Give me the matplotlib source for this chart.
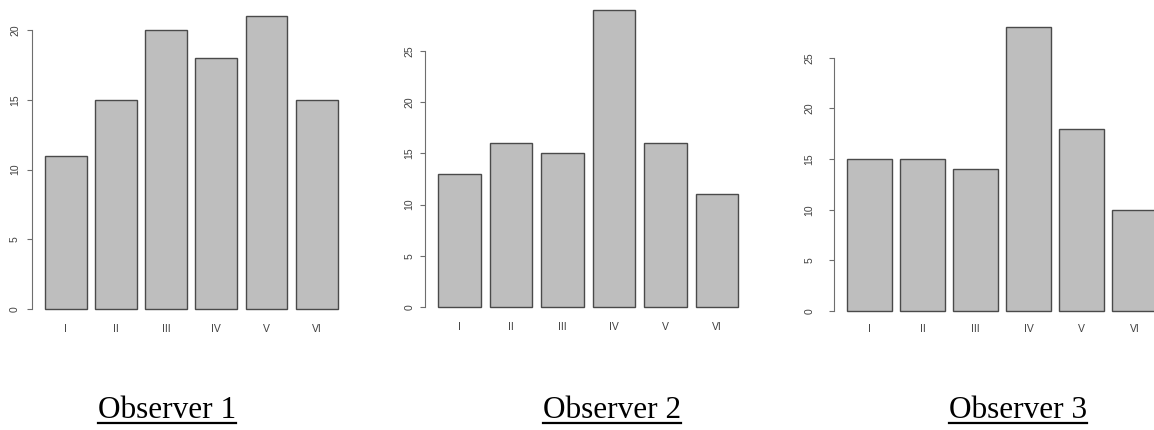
import matplotlib
matplotlib.use('Agg')
import matplotlib.pyplot as plt
from matplotlib.lines import Line2D

plt.rcParams['font.family'] = 'Liberation Sans'

# data
groups = ['I', 'II', 'III', 'IV', 'V', 'VI']
obs1 = [11, 15, 20, 18, 21, 15]
obs2 = [13, 16, 15, 29, 16, 11]
obs3 = [15, 15, 14, 28, 18, 10]
titles = ['Observer 1', 'Observer 2', 'Observer 3']
yticks1 = [0, 5, 10, 15, 20]
yticks2 = [0, 5, 10, 15, 20, 25]
yticks3 = [0, 5, 10, 15, 20, 25]

W, H = 1154, 430
fig = plt.figure(figsize=(W / 100, H / 100), dpi=100)


def add_panel(vals, ticks, spine, step, zero, unit, ypad, xpad):
    # spine/zero are pixel positions, step = bar spacing px, unit = px per count
    x_lo, span = -0.67, 6.6
    ax = fig.add_axes([spine / W, (H - zero) / H, step * span / W, zero / H])
    ax.bar(range(len(vals)), vals, width=0.833, color='#bebebe',
           edgecolor='#4a4a4a', linewidth=1.0, clip_on=False)
    ax.set_xlim(x_lo, x_lo + span)
    ax.set_ylim(0, zero / unit)
    ax.patch.set_alpha(0)
    for s in ['top', 'right', 'bottom']:
        ax.spines[s].set_visible(False)
    ax.spines['left'].set_bounds(ticks[0], ticks[-1])
    ax.spines['left'].set_color('#6e6e6e')
    ax.spines['left'].set_linewidth(0.8)
    ax.set_yticks(ticks)
    ax.set_yticklabels([str(t) for t in ticks], rotation=90, va='center')
    ax.tick_params(axis='y', length=3.6, width=0.8, color='#6e6e6e',
                   labelsize=7.5, labelcolor='#404040', pad=ypad)
    ax.set_xticks(range(len(vals)))
    ax.set_xticklabels(groups)
    ax.tick_params(axis='x', length=0, labelsize=7.5, labelcolor='#404040', pad=xpad)
    return ax


add_panel(obs1, yticks1, 32, 50.2, 309, 13.95, 5.0, 11)
add_panel(obs2, yticks2, 425, 51.5, 307, 10.24, 4.0, 11)
add_panel(obs3, yticks3, 834, 53.0, 311, 10.13, 10.5, 9.5)

centers = [167, 612, 1018]
texts = []
for cx, t in zip(centers, titles):
    texts.append(fig.text(cx / W, 1 - 418 / H, t, ha='center', va='baseline',
                          family='Liberation Serif', fontsize=22.5, color='black'))

fig.canvas.draw()
for t in texts:
    bb = t.get_window_extent()
    y = (H - 423) / H
    fig.add_artist(Line2D([bb.x0 / W, bb.x1 / W], [y, y], transform=fig.transFigure,
                          color='black', linewidth=1.6))

fig.savefig('out.png', dpi=100)
